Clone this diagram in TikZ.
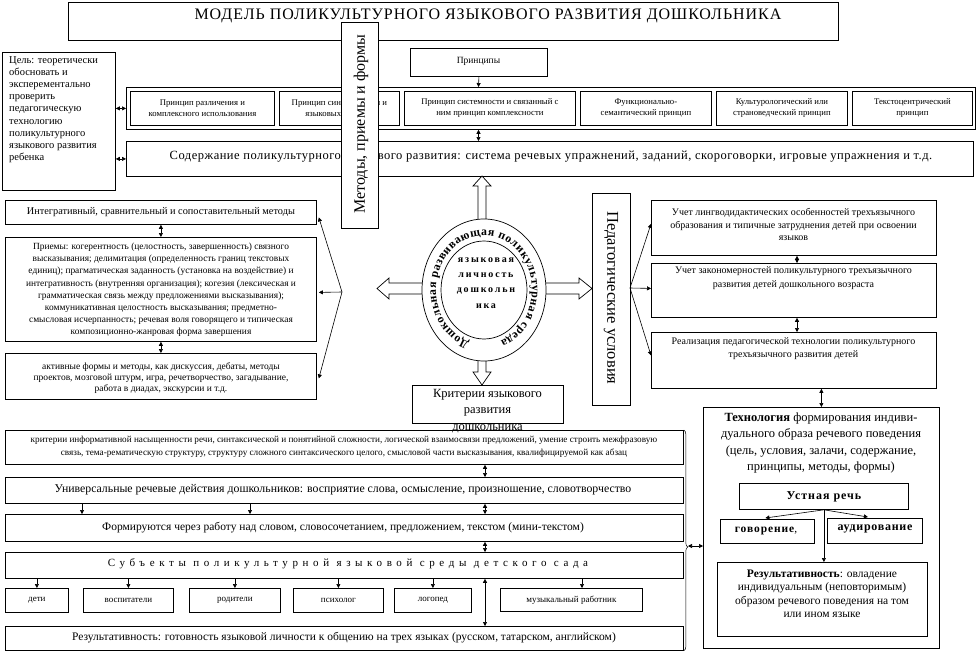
\documentclass[tikz,border=0pt]{standalone}
\usepackage{fontspec}
\setmainfont{Liberation Serif}
\usetikzlibrary{arrows.meta,shapes.geometric,decorations.text,decorations.pathreplacing,calc}
\newcommand\myfs[2]{\fontsize{#1}{#2}\selectfont}
\newcommand\bx[5]{\node[box, minimum width={#4-#2}, minimum height={#5-#3}] (#1) at (#2,#3) {};}
\begin{document}
\begin{tikzpicture}[x=1pt,y=-1pt,
  box/.style={draw, line width=0.8pt, fill=white, inner sep=0pt, anchor=north west},
  txt/.style={inner sep=0pt, align=center},
  arr/.style={line width=0.6pt, -{Triangle[length=4pt,width=4pt]}},
  darr/.style={line width=0.6pt, {Triangle[length=4pt,width=4pt]}-{Triangle[length=4pt,width=4pt]}},
  blk/.style={draw, line width=0.7pt, fill=white, line join=miter},
]
\useasboundingbox (0,0) rectangle (977,653);
\fill[white] (0,0) rectangle (977,653);

% title
\bx{title}{68}{2}{838}{40}
\node[txt, font=\myfs{16}{16}\addfontfeatures{LetterSpace=6}] (ttitle) at (488,16) {МОДЕЛЬ ПОЛИКУЛЬТУРНОГО ЯЗЫКОВОГО РАЗВИТИЯ ДОШКОЛЬНИКА};

% goal
\bx{goal}{2}{52}{115}{190}
\node[txt, align=left, anchor=north west, font=\myfs{10.5}{12.2}] (tgoal) at (9,56) {Цель: теоретически\\обосновать и\\эксперементально\\проверить\\педагогическую\\технологию\\поликультурного\\языкового развития\\ребенка};

% principles
\bx{phdr}{410}{48}{547}{76}
\node[txt, font=\myfs{9.5}{11}] (tphdr) at (478.5,61) {Принципы};
\bx{pouter}{126}{87}{975}{129}
\bx{p1}{130}{91}{274}{125}
\bx{p2}{279}{91}{399}{125}
\bx{p3}{404}{91}{575}{125}
\bx{p4}{580}{91}{711}{125}
\bx{p5}{716}{91}{847}{125}
\bx{p6}{852}{91}{972}{125}
\begin{scope}[every node/.style={txt, font=\myfs{8.7}{11}}]
\node (tp1) at (p1) {Принцип различения и\\комплексного использования};
\node (tp2) at (p2) {Принцип синхронности и\\языковых явлений};
\node (tp3) at (p3) {Принцип системности и связанный с\\ним принцип комплексности};
\node (tp4) at (p4) {Функционально-\\семантический принцип};
\node (tp5) at (p5) {Культурологический или\\страноведческий принцип};
\node (tp6) at (p6) {Текстоцентрический\\принцип};
\end{scope}
\bx{content}{126}{141}{973}{176}
\node[txt, font=\myfs{12.5}{12.5}\addfontfeatures{LetterSpace=4}] (tcontent) at (551,157) {Содержание поликультурного языкового развития: система речевых упражнений, заданий, скороговорки, игровые упражнения и т.д.};

\coordinate (cp) at (478.5,0);
\draw[arr] (phdr.south) -- (pouter.north -| cp);
\draw[darr] (pouter.south -| cp) -- (content.north -| cp);
\draw[darr] (goal.east |- pouter.west) -- (pouter.west);
\draw[darr] (goal.east |- content.west) -- (content.west);

% methods vertical box
\bx{meth}{341}{22}{378}{228}
\node[txt, rotate=90, font=\myfs{16}{16}] (tmeth) at (361,124) {Методы, приемы и формы};

% left column
\bx{L1}{5}{200}{316}{224}
\node[txt, font=\myfs{10.3}{12}] (tL1) at (L1) {Интегративный, сравнительный и сопоставительный методы};
\bx{L2}{5}{237}{316}{341}
\node[txt, font=\myfs{9.4}{12.2}] (tL2) at (161,290) {Приемы: когерентность (целостность, завершенность) связного\\высказывания; делимитация (определенность границ текстовых\\единиц); прагматическая заданность (установка на воздействие) и\\интегративность (внутренняя организация); когезия (лексическая и\\грамматическая связь между предложениями высказывания);\\коммуникативная целостность высказывания; предметно-\\смысловая исчерпанность; речевая воля говорящего и типическая\\композиционно-жанровая форма завершения};
\bx{L3}{5}{353}{316}{399}
\node[txt, font=\myfs{9.5}{10.8}] (tL3) at (161,378) {активные формы и методы, как дискуссия, дебаты, методы\\проектов, мозговой штурм, игра, речетворчество, загадывание,\\работа в диадах, экскурсии и т.д.};
\draw[darr] (L1.south) -- (L2.north);
\draw[darr] (L2.south) -- (L3.north);
\coordinate (lf) at (342,292);
\draw[arr] (lf) -- ($(L1.east)+(2,5)$);
\draw[arr] (lf) -- ($(L2.east)+(2,3)$);
\draw[arr] (lf) -- ($(L3.east)+(2,2)$);

% pedagogical conditions
\bx{ped}{592}{193}{630}{405}
\node[txt, rotate=-90, font=\myfs{16.5}{16.5}] (tped) at (611,298) {Педагогические условия};
\bx{R1}{651}{200}{936}{255}
\node[txt, font=\myfs{10}{12.5}] (tR1) at (793.5,224.5) {Учет лингводидактических особенностей трехъязычного\\образования и типичные затруднения детей при освоении\\языков};
\bx{R2}{651}{263}{936}{317}
\node[txt, font=\myfs{10}{13.5}] (tR2) at (793.5,278) {Учет закономерностей поликультурного трехъязычного\\развития детей дошкольного возраста};
\bx{R3}{651}{332}{936}{388}
\node[txt, font=\myfs{10}{13.5}] (tR3) at (793.5,348.5) {Реализация педагогической технологии поликультурного\\трехъязычного развития детей};
\coordinate (cr) at (797,0);
\draw[darr] (R1.south -| cr) -- (R2.north -| cr);
\draw[darr] (R2.south -| cr) -- (R3.north -| cr);
\coordinate (rf) at (630,288);
\draw[arr] (rf) -- ($(R1.west)+(0,-4)$);
\draw[arr] (rf) -- ($(R2.west)+(0,-2)$);
\draw[arr] (rf) -- ($(R3.west)+(0,-5)$);

% block arrows
\draw[blk] (478,232) -- (478,186) -- (473,186) -- (482,176) -- (491,186) -- (486,186) -- (486,232) -- cycle;
\draw[blk] (435,283) -- (389,283) -- (389,278) -- (377,288.5) -- (389,299) -- (389,294) -- (435,294) -- cycle;
\draw[blk] (535,283) -- (579,283) -- (579,278) -- (592,288.5) -- (579,299) -- (579,294) -- (535,294) -- cycle;
\draw[blk] (478,348) -- (478,372) -- (473,372) -- (482,385) -- (491,372) -- (486,372) -- (486,348) -- cycle;

% ellipses
\node[draw, ellipse, line width=0.7pt, fill=white, minimum width=124, minimum height=142, inner sep=0pt] (outer) at (484,290) {};
\node[draw, ellipse, line width=0.7pt, minimum width=86, minimum height=98, inner sep=0pt] (inner) at (484,290) {};
\path[decorate, decoration={text along path, text align=fit to path,
  text={|\bfseries\myfs{11.8}{11.8}|Дошкольная развивающая поликультурная среда}}]
  (484,290) ++(108:48 and 54.5) arc[start angle=108, end angle=430, x radius=48, y radius=54.5];
\node[txt, font=\bfseries\myfs{10}{15.3}\addfontfeatures{LetterSpace=18}] (tinner) at (486,283) {языковая\\личность\\дошкольн\\ика};

% technology
\bx{tech}{703}{407}{939}{648}
\draw[darr] (R3.south -| tech.north) -- (tech.north);
\node[txt, font=\myfs{12.5}{16.5}] (ttech) at (821,443) {\textbf{Технология} формирования индиви-\\дуального образа речевого поведения\\(цель, условия, залачи, содержание,\\принципы, методы, формы)};
\bx{oral}{739}{483}{908}{509}
\node[txt, font=\bfseries\myfs{12}{12}\addfontfeatures{LetterSpace=8}] (toral) at (oral) {Устная речь};
\bx{gov}{720}{519}{814}{543}
\node[txt, font=\myfs{11.5}{12}] (tgov) at (766,531) {{\bfseries\addfontfeatures{LetterSpace=8}говорение},};
\bx{aud}{827}{518}{922}{543}
\node[txt, font=\bfseries\myfs{12}{12}\addfontfeatures{LetterSpace=6}] (taud) at (875,529) {аудирование};
\bx{res}{717}{562}{927}{636}
\node[txt, font=\myfs{11.5}{13.5}] (tres) at (822,594) {\textbf{Результативность}: овладение\\индивидуальным (неповторимым)\\образом речевого поведения на том\\или ином языке};
\draw[arr] (oral.south) -- ($(gov.north)+(-2,-1)$);
\draw[arr] (oral.south) -- ($(aud.north)+(-7,-1)$);
\draw[arr] (oral.south) -- (oral.south |- res.north);

% bottom section
\bx{B1}{5}{430}{683}{464}
\node[txt, font=\myfs{9.2}{13}] (tB1) at (344,446.5) {критерии информативной насыщенности речи, синтаксической и понятийной сложности, логической взаимосвязи предложений, умение строить межфразовую\\связь, тема-рематическую структуру, структуру сложного синтаксического целого, смысловой части высказывания, квалифицируемой как абзац};
\bx{B2}{5}{477}{683}{503}
\node[txt, font=\myfs{11.8}{12}] (tB2) at (343,490) {Универсальные речевые действия дошкольников: восприятие слова, осмысление, произношение, словотворчество};
\bx{B3}{5}{514}{683}{541}
\node[txt, font=\myfs{11.5}{12}] (tB3) at (343,527.5) {Формируются через работу над словом, словосочетанием, предложением, текстом (мини-текстом)};
\bx{B4}{5}{552}{683}{578}
\node[txt, font=\myfs{11}{12}\addfontfeatures{LetterSpace=42}] (tB4) at (348,564) {Субъекты поликультурной языковой среды детского сада};
\bx{k1}{5}{588}{68}{612}
\bx{k2}{83}{588}{173}{612}
\bx{k3}{189}{588}{280}{612}
\bx{k4}{293}{588}{383}{612}
\bx{k5}{394}{588}{471}{612}
\bx{k6}{500}{588}{642}{611}
\begin{scope}[every node/.style={txt, font=\myfs{9}{10}}]
\node (tk1) at (k1) {дети};
\node (tk2) at (k2) {воспитатели};
\node (tk3) at (k3) {родители};
\node (tk4) at (k4) {психолог};
\node (tk5) at (k5) {логопед};
\node (tk6) at (k6) {музыкальный работник};
\end{scope}
\bx{B6}{5}{626}{683}{650}
\node[txt, font=\myfs{11.5}{12}] (tB6) at (344,638) {Результативность: готовность языковой личности к общению на трех языках (русском, татарском, английском)};

\coordinate (c485) at (485,0);
\coordinate (c82) at (82,0);
\coordinate (c250) at (250,0);
\coordinate (c582) at (582,0);
\draw[darr] (B1.south -| c485) -- (B2.north -| c485);
\draw[arr] (B2.south -| c82) -- (B3.north -| c82);
\draw[arr] (B2.south -| c250) -- (B3.north -| c250);
\draw[darr] (B2.south -| c485) -- (B3.north -| c485);
\draw[darr] (B3.south -| c485) -- (B4.north -| c485);
\foreach \k in {k1,k2,k3,k4,k5} {\draw[arr] (B4.south -| \k.north) -- (\k.north);}
\draw[arr] (B4.south -| c582) -- (k6.north -| c582);
\draw[darr] (B4.south -| c485) -- (B6.north -| c485);

% brace
\draw[decorate, decoration={brace, amplitude=4pt, aspect=0.53}, line width=0.5pt] (B1.north east) -- (B6.south east);
\coordinate (btip) at (688,546);
\draw[darr] (btip) -- (btip -| tech.west);

% criteria box (text overflows onto B1)
\bx{crit}{412}{385}{563}{423}
\node[txt, anchor=north, font=\myfs{12.5}{16.5}] (tcrit) at (487.5,389) {Критерии языкового\\развития\\дошкольника};
\end{tikzpicture}
\end{document}
